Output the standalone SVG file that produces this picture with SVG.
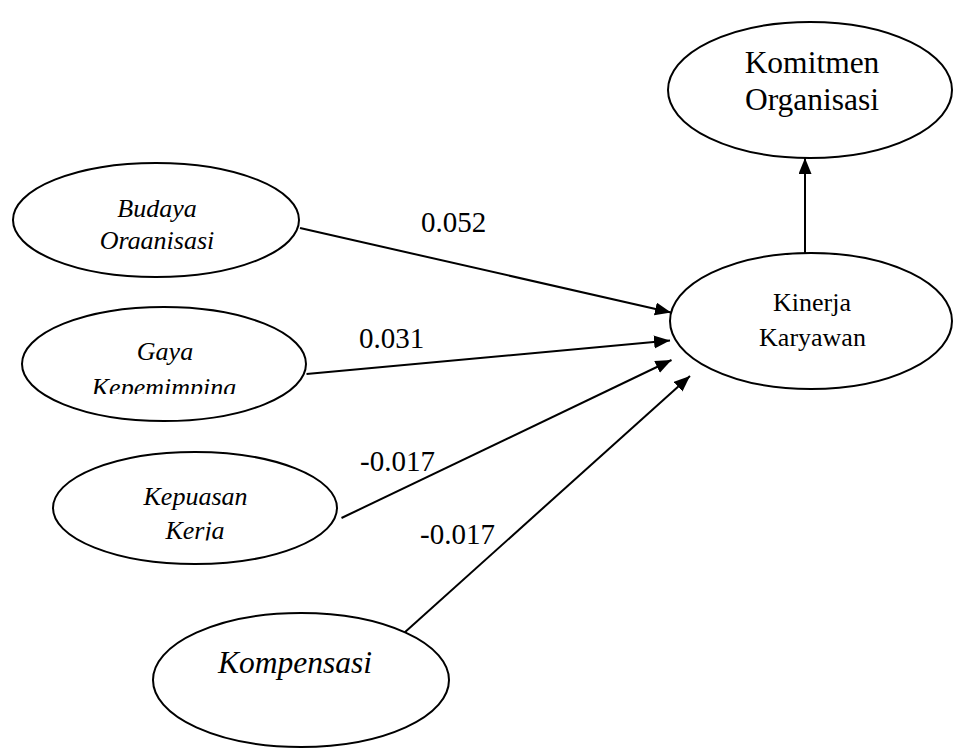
<svg xmlns="http://www.w3.org/2000/svg" width="953" height="753" viewBox="0 0 953 753">
  <style>
    .node { fill: #ffffff; stroke: #000000; stroke-width: 2; }
    .edge { stroke: #000000; stroke-width: 2; fill: none; marker-end: url(#arrow); }
    text { font-family: 'Liberation Serif', serif; fill: #000000; }
    .lbl { text-anchor: middle; }
    .it { font-style: italic; }
    .num { font-size: 29px; }
  </style>
  <defs>
    <marker id="arrow" markerUnits="userSpaceOnUse" markerWidth="17" markerHeight="14" refX="16" refY="6.5" orient="auto">
      <path d="M0,0 L16,6.5 L0,13 Z" fill="#000000"/>
    </marker>
    <!-- text boxes cut off the second line of some labels -->
    <clipPath id="clipBudaya"><rect x="0" y="150" width="320" height="99"/></clipPath>
    <clipPath id="clipGaya"><rect x="0" y="300" width="320" height="94"/></clipPath>
    <clipPath id="clipKepuasan"><rect x="40" y="440" width="320" height="100.5"/></clipPath>
  </defs>

  <rect x="0" y="0" width="953" height="753" fill="#ffffff"/>

  <g id="connectors">
    <line class="edge" x1="300" y1="228" x2="671" y2="312.5"/>
    <line class="edge" x1="306.5" y1="374" x2="670" y2="340.5"/>
    <line class="edge" x1="341.5" y1="518" x2="671.5" y2="360"/>
    <line class="edge" x1="404" y1="633" x2="690" y2="376"/>
    <line class="edge" x1="805" y1="253" x2="805" y2="158"/>
    <text class="num" x="421" y="232">0.052</text>
    <text class="num" x="359" y="348">0.031</text>
    <text class="num" x="360" y="471">-0.017</text>
    <text class="num" x="420" y="544">-0.017</text>
  </g>

  <g id="budaya">
    <ellipse class="node" cx="156" cy="220" rx="143" ry="57"/>
    <g clip-path="url(#clipBudaya)">
      <text class="lbl it" font-size="26" x="157" y="217">Budaya</text>
      <text class="lbl it" font-size="26" x="157" y="249">Organisasi</text>
    </g>
  </g>

  <g id="gaya">
    <ellipse class="node" cx="164" cy="364" rx="142" ry="57"/>
    <g clip-path="url(#clipGaya)">
      <text class="lbl it" font-size="26" x="165" y="360">Gaya</text>
      <text class="lbl it" font-size="26" x="164" y="396">Kepemimpina</text>
    </g>
  </g>

  <g id="kepuasan">
    <ellipse class="node" cx="195" cy="508" rx="142" ry="56"/>
    <g clip-path="url(#clipKepuasan)">
      <text class="lbl it" font-size="26" x="195.5" y="505">Kepuasan</text>
      <text class="lbl it" font-size="26" x="195" y="539">Kerja</text>
    </g>
  </g>

  <g id="kompensasi">
    <ellipse class="node" cx="301" cy="680" rx="148" ry="67"/>
    <text class="lbl it" font-size="31.5" x="295" y="673">Kompensasi</text>
  </g>

  <g id="kinerja">
    <ellipse class="node" cx="811" cy="321" rx="141" ry="68"/>
    <text class="lbl" font-size="26" x="812" y="311">Kinerja</text>
    <text class="lbl" font-size="26" x="812.5" y="346">Karyawan</text>
  </g>

  <g id="komitmen">
    <ellipse class="node" cx="810" cy="90" rx="142" ry="68"/>
    <text class="lbl" font-size="31.5" x="812" y="73">Komitmen</text>
    <text class="lbl" font-size="31.5" x="812" y="110">Organisasi</text>
  </g>
</svg>
